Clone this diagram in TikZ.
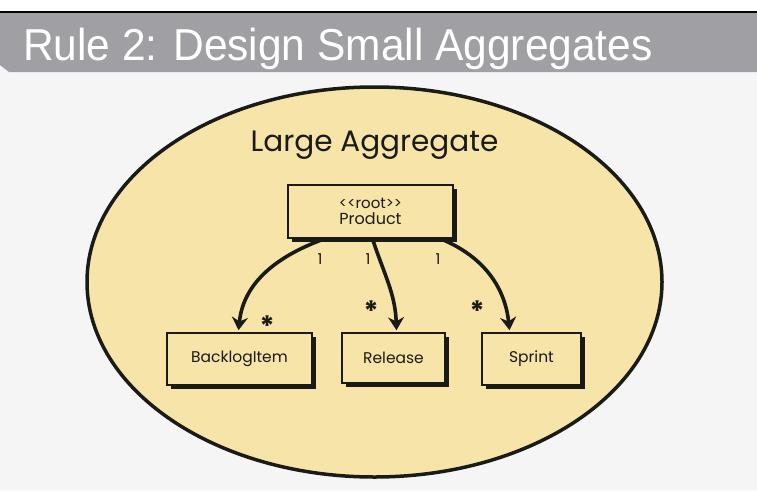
\documentclass[tikz,border=0pt]{standalone}
\usepackage{fontspec}
\setmainfont{Liberation Sans}
\newfontfamily\sketchfont{Poppins}
\usetikzlibrary{arrows.meta,shadows}
\definecolor{bandgray}{RGB}{160,160,164}
\definecolor{pagegray}{RGB}{245,245,245}
\definecolor{aggfill}{RGB}{247,228,168}
\definecolor{inkc}{RGB}{26,26,22}
\tikzset{
  umlbox/.style={draw=inkc, line width=1.6pt, fill=aggfill, text=inkc,
    inner sep=0pt, font=\sketchfont\fontsize{15.5}{17}\selectfont,
    general shadow={fill=inkc, shadow xshift=3.5pt, shadow yshift=-3.5pt}},
  assoc/.style={draw=inkc, line width=3.6pt, -{Stealth[length=13pt,width=16pt]}},
  mult/.style={inner sep=0pt, text=inkc, font=\sketchfont\fontsize{15}{17}\selectfont},
  star/.style={inner sep=0pt, text=inkc, font=\sketchfont\bfseries\fontsize{28}{28}\selectfont}
}
\begin{document}
\begin{tikzpicture}[x=1pt,y=1pt]
\useasboundingbox (0,0) rectangle (757,-490);
\fill [white] (0,0) rectangle (757,-12);
\fill [pagegray] (0,-12) rectangle (757,-490);
\fill [bandgray] (0,-12) -- (757,-12) -- (757,-72) -- (9,-72) -- (0,-65) -- cycle;
\draw [black, line width=1.2pt] (0,-12) -- (757,-12);
\node (title) [anchor=base west, inner sep=0pt, text=white,
  font=\fontsize{44.7}{46}\selectfont] at (23,-60) {\scalebox{0.95}[1]{Rule 2: Design Small Aggregates}};
\draw [inkc, line width=3.5pt, fill=aggfill] (374.5,-282) ellipse (287.5 and 195);
\node (aggname) [anchor=base, inner sep=0pt, text=inkc,
  font=\sketchfont\fontsize{29.5}{32}\selectfont] at (374.5,-151) {Large Aggregate};
\node (product) [umlbox, minimum width=165pt, minimum height=53pt, align=center,
  font=\sketchfont\fontsize{16}{17}\selectfont] at (370.5,-211.5)
  {{\fontsize{15}{16}\selectfont <{}<root>{}>}\\[-1pt]Product};
\node (backlog) [umlbox, minimum width=145pt, minimum height=52pt] at (239.5,-359) {BacklogItem};
\node (release) [umlbox, minimum width=103pt, minimum height=50pt] at (393.5,-358) {Release};
\node (sprint) [umlbox, minimum width=99pt, minimum height=52pt] at (531.5,-359) {Sprint};
\draw [assoc] ([xshift=-46pt]product.south) to [out=200,in=84] ([xshift=-1pt,yshift=2pt]backlog.north);
\draw [assoc] ([xshift=2pt]product.south) to [out=-72,in=92] ([xshift=3pt,yshift=2pt]release.north);
\draw [assoc] ([xshift=70pt]product.south) to [out=-22,in=96] ([xshift=-22pt,yshift=2pt]sprint.north);
\node (m1) [mult] at (320,-259) {1};
\node (m2) [mult] at (368,-259) {1};
\node (m3) [mult] at (438,-259) {1};
\node (s1) [star] at (267,-326) {*};
\node (s2) [star] at (371,-311) {*};
\node (s3) [star] at (477,-311) {*};
\end{tikzpicture}
\end{document}
